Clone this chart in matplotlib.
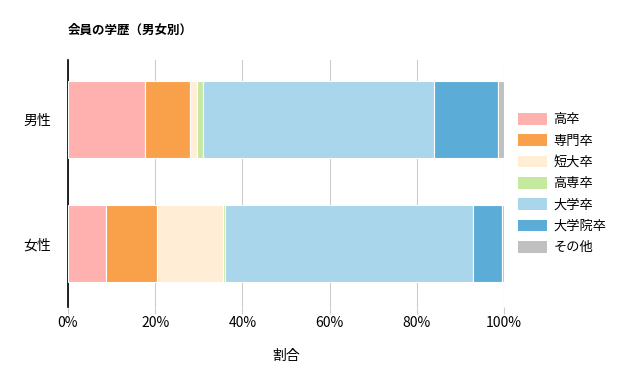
import matplotlib
matplotlib.use("Agg")
import matplotlib.pyplot as plt
from matplotlib.ticker import PercentFormatter
from matplotlib.patches import Patch

plt.rcParams['font.family'] = ['Noto Sans CJK JP', 'DejaVu Sans']

groups = ["男性", "女性"]
categories = ["高卒", "専門卒", "短大卒", "高専卒", "大学卒", "大学院卒", "その他"]
male = [17.7, 10.2, 1.8, 1.2, 53.1, 14.6, 1.4]
female = [8.7, 11.8, 15.1, 0.4, 56.9, 6.6, 0.5]
colors = ["#ffb1b0", "#f9a04b", "#ffedd6", "#c6e9a0", "#a9d6eb", "#5badd7", "#c0c0c0"]

fig = plt.figure(figsize=(6.4, 3.81), dpi=100)
ax = fig.add_axes([68 / 640, 1 - 307 / 381, 436 / 640, 247 / 381])

values = [male, female]
for j, cat in enumerate(categories):
    widths = [v[j] for v in values]
    lefts = [sum(v[:j]) for v in values]
    ax.barh(range(len(groups)), widths, left=lefts, height=0.62, color=colors[j],
            edgecolor="white", linewidth=0.8, label=cat, zorder=3)

ax.set_xlim(0, 100)
ax.set_ylim(1.51, -0.48)
ax.set_yticks(range(len(groups)))
ax.set_yticklabels(groups, fontsize=10)
ax.tick_params(axis="y", length=0, pad=12)
ax.set_xticks([0, 20, 40, 60, 80, 100])
ax.xaxis.set_major_formatter(PercentFormatter(decimals=0))
ax.tick_params(axis="x", labelsize=10, length=5, color="#cccccc", pad=1.5)
ax.grid(axis="x", color="#cccccc", lw=0.8, zorder=0)
for s in ["top", "right", "bottom"]:
    ax.spines[s].set_visible(False)
ax.spines["left"].set_color("black")
ax.spines["left"].set_linewidth(1.2)
ax.set_xlabel("割合", fontsize=10, labelpad=14)

fig.text(68 / 640, 1 - 30 / 381, "会員の学歴（男女別）", fontsize=9, fontweight="bold", va="center")

handles = [Patch(facecolor=c, edgecolor="none") for c in colors]
fig.legend(handles, categories, loc="upper left", bbox_to_anchor=(506 / 640, 1 - 101 / 381),
           frameon=False, fontsize=9.5, handlelength=2.2, handleheight=1.0, labelspacing=0.6,
           handletextpad=0.5)

fig.savefig("out.png", dpi=100)
